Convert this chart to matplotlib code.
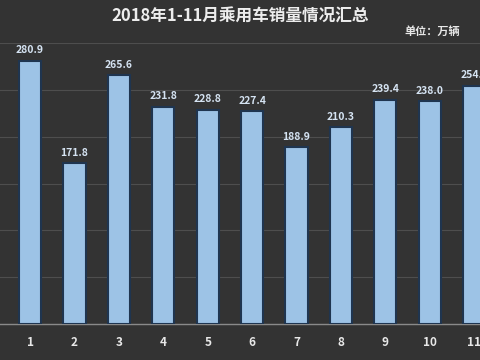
import matplotlib.pyplot as plt

plt.rcParams['font.family'] = ['Noto Sans CJK SC', 'DejaVu Sans']

months = ["1", "2", "3", "4", "5", "6", "7", "8", "9", "10", "11"]
sales = [280.9, 171.8, 265.6, 231.8, 228.8, 227.4, 188.9, 210.3, 239.4, 238.0, 254.2]

bg = "#333333"
fig = plt.figure(figsize=(4.8, 3.6), dpi=100, facecolor=bg)
ax = fig.add_axes([0, 0.1, 1, 0.78], facecolor=bg)

x = list(range(1, len(months) + 1))
ax.bar(x, sales, width=0.5, color="#9DC3E6", edgecolor="#1F3550", linewidth=1.5, zorder=3)

for xi, v in zip(x, sales):
    ax.text(xi, v + 6, "%.1f" % v, ha="center", va="bottom", fontsize=7.5,
            fontweight="bold", color="#D5E3F2", zorder=4)

ax.set_xlim(0.324, 11.13)
ax.set_ylim(0, 300)
ax.set_yticks([0, 50, 100, 150, 200, 250, 300])
ax.yaxis.grid(True, color="#4E4E4E", linewidth=0.8, zorder=0)
ax.tick_params(axis="y", left=False, labelleft=False)
ax.set_xticks(x)
ax.set_xticklabels(months, fontsize=8.5, fontweight="bold", color="#E8E8E8")
ax.tick_params(axis="x", length=0, pad=9)
for s in ["top", "right", "left"]:
    ax.spines[s].set_visible(False)
ax.spines["bottom"].set_color("#8A8A8A")
ax.spines["bottom"].set_linewidth(1)

fig.text(0.5, 0.955, "2018年1-11月乘用车销量情况汇总", ha="center", va="center",
         fontsize=12, fontweight="bold", color="#EDEDED")
fig.text(0.9, 0.912, "单位：万辆", ha="center", va="center",
         fontsize=8, fontweight="bold", color="#E8E8E8")

fig.savefig("out.png", dpi=100, facecolor=bg)
